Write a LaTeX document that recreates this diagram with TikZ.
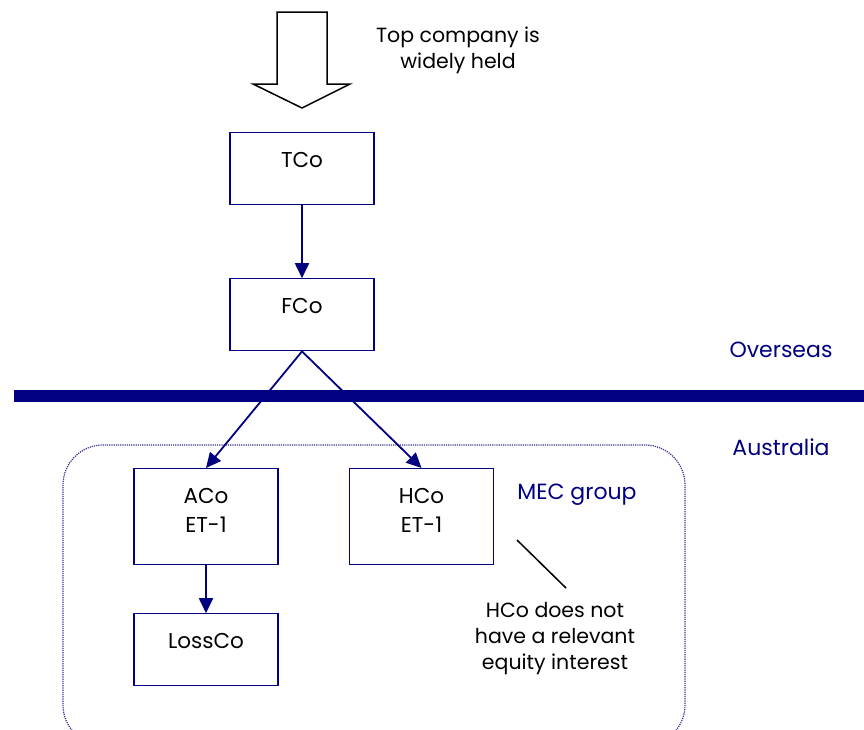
\documentclass[tikz,border=0pt]{standalone}
\usepackage{fontspec}
\setmainfont{Poppins}
\usetikzlibrary{arrows.meta,positioning}
\definecolor{navy}{RGB}{0,0,128}
\begin{document}
\begin{tikzpicture}[x=1pt,y=-1pt,
    company/.style={draw=navy, line width=1.2pt, inner sep=0pt, minimum width=144pt,
      align=center, font=\fontsize{21.5}{29}\selectfont, text height=35pt, text depth=37pt},
    entity/.style={company, text height=64pt, text depth=32pt},
    owns/.style={navy, line width=1.8pt, -{Triangle[length=15pt,width=14pt]}},
    region/.style={text=navy, font=\fontsize{22}{24}\selectfont},
    remark/.style={align=center, font=\fontsize{20.5}{26}\selectfont}]
  \useasboundingbox (0,0) rectangle (864,729);
  \clip (0,0) rectangle (864,729);
  % widely held arrow
  \draw[line width=1.5pt, fill=white] (277,12) -- (327,12) -- (327,84) -- (350,84)
    -- (302,108) -- (253,84) -- (277,84) -- cycle;
  \node[remark] (held) at (458,50) {Top company is\\widely held};
  % overseas
  \node[company, anchor=north] (tco) at (302,132) {TCo};
  \node[company, below=73pt of tco] (fco) {FCo};
  \draw[owns] (tco) -- (fco);
  % border
  \draw[navy, line width=12pt] (14,396) -- (864,396);
  \node[region] (overseas) at (781,350) {Overseas};
  \node[region] (australia) at (781,447) {Australia};
  % australia
  \draw[navy!80, densely dotted, line width=1.2pt, rounded corners=40pt] (63,445) rectangle (685,745);
  \node[entity, anchor=north] (aco) at (206,468) {ACo\\ET-1};
  \node[entity, anchor=north] (hco) at (421.5,468) {HCo\\ET-1};
  \node[company, below=48pt of aco] (lossco) {LossCo};
  \node[region] (mec) at (577,495) {MEC group};
  \draw[owns] (fco.south) -- (aco.north);
  \draw[owns] (fco.south) -- (hco.north);
  \draw[owns] (aco) -- (lossco);
  \node[remark] (note) at (555,639) {HCo does not\\have a relevant\\equity interest};
  \draw[line width=1.5pt] (517,540) -- (566,588);
\end{tikzpicture}
\end{document}
